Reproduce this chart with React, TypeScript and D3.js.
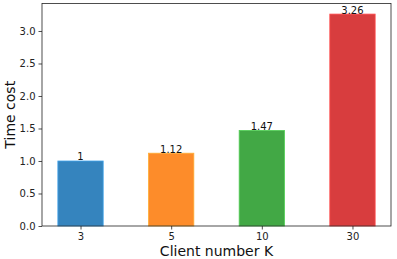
import React, { useEffect, useRef } from "react";
import * as d3 from "d3";

const clients = ["3", "5", "10", "30"];
const timeCost = [1, 1.12, 1.47, 3.26];
const valueLabels = ["1", "1.12", "1.47", "3.26"];
const barColors = ["#3584be", "#fd8c2a", "#42a845", "#d83d3e"];
const yTicks = [0, 0.5, 1, 1.5, 2, 2.5, 3];

export default function App() {
	const svgRef = useRef<SVGSVGElement>(null);

	useEffect(() => {
		if (!svgRef.current) return;
		const width = 397;
		const height = 259;
		const margin = { top: 3.5, right: 6, bottom: 33, left: 42 };
		const graphWidth = width - margin.left - margin.right;
		const graphHeight = height - margin.top - margin.bottom;

		const svg = d3.select(svgRef.current);
		svg.selectAll("*").remove();

		const graph = svg
			.append("g")
			.attr("transform", `translate(${margin.left},${margin.top})`);

		// matplotlib-like limits: bars of width 0.5 at 0..n-1, 5% margins
		const n = clients.length;
		const xMin = -0.25 - 0.05 * (n - 1 + 0.5);
		const xMax = n - 1 + 0.25 + 0.05 * (n - 1 + 0.5);
		const x = d3.scaleLinear().domain([xMin, xMax]).range([0, graphWidth]);
		const maxVal = d3.max(timeCost) as number;
		const y = d3
			.scaleLinear()
			.domain([0, maxVal * 1.05])
			.range([graphHeight, 0]);

		const barW = x(0.5) - x(0);

		graph
			.selectAll("rect.bar")
			.data(timeCost)
			.enter()
			.append("rect")
			.attr("class", "bar")
			.attr("x", (d, i) => x(i) - barW / 2)
			.attr("y", (d) => y(d))
			.attr("width", barW)
			.attr("height", (d) => graphHeight - y(d))
			.attr("fill", (d, i) => barColors[i])
			.attr("stroke", (d, i) => d3.color(barColors[i])!.brighter(0.6).toString())
			.attr("stroke-width", 0.8);

		graph
			.selectAll("text.val")
			.data(timeCost)
			.enter()
			.append("text")
			.attr("class", "val")
			.attr("x", (d, i) => x(i))
			.attr("y", (d) => y(d) - 0.5)
			.attr("text-anchor", "middle")
			.attr("font-family", "DejaVu Sans")
			.attr("font-size", 10)
			.attr("fill", "#111")
			.text((d, i) => valueLabels[i]);

		const xAxis = d3
			.axisBottom(d3.scaleOrdinal<string, number>().domain(clients).range(clients.map((c, i) => x(i))) as any)
			.tickSizeInner(3.5)
			.tickSizeOuter(0)
			.tickPadding(3);
		const xAxisGroup = graph
			.append("g")
			.attr("transform", `translate(0,${graphHeight})`)
			.call(xAxis);

		const yAxis = d3
			.axisLeft(y)
			.tickValues(yTicks)
			.tickFormat(d3.format(".1f"))
			.tickSizeInner(3.5)
			.tickSizeOuter(0)
			.tickPadding(3);
		const yAxisGroup = graph.append("g").call(yAxis);

		[xAxisGroup, yAxisGroup].forEach((g) => {
			g.select(".domain").remove();
			g.selectAll("line").attr("stroke", "#222").attr("stroke-width", 0.8);
			g.selectAll("text")
				.attr("font-family", "DejaVu Sans")
				.attr("font-size", 10)
				.attr("fill", "#222");
		});

		// frame
		graph
			.append("rect")
			.attr("x", 0)
			.attr("y", 0)
			.attr("width", graphWidth)
			.attr("height", graphHeight)
			.attr("fill", "none")
			.attr("stroke", "#222")
			.attr("stroke-width", 0.8);

		svg.append("text")
			.attr("x", margin.left + graphWidth / 2)
			.attr("y", 256)
			.attr("text-anchor", "middle")
			.attr("font-family", "DejaVu Sans")
			.attr("font-size", 14)
			.attr("fill", "#111")
			.text("Client number K");

		svg.append("text")
			.attr("transform", `translate(15,${margin.top + graphHeight / 2}) rotate(-90)`)
			.attr("text-anchor", "middle")
			.attr("font-family", "DejaVu Sans")
			.attr("font-size", 14)
			.attr("fill", "#111")
			.text("Time cost");
	}, []);

	return (
		<div style={{ position: "absolute", left: 0, top: 0 }}>
			<svg ref={svgRef} width={397} height={259} style={{ display: "block", background: "#fff" }} />
		</div>
	);
}
